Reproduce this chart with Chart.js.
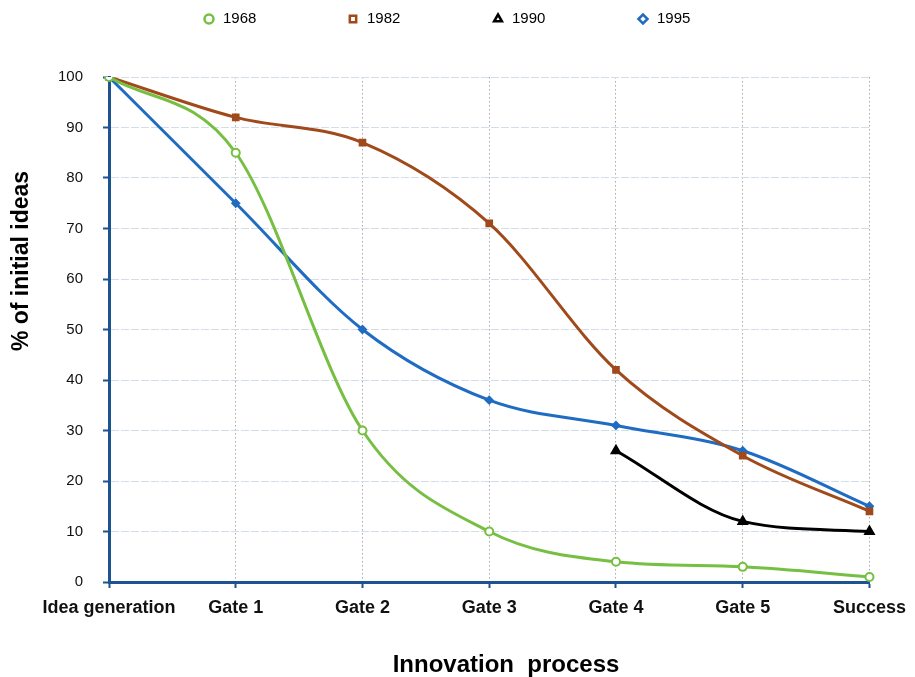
<!DOCTYPE html>
<html>
<head>
<meta charset="utf-8">
<script src="https://cdn.jsdelivr.net/npm/chart.js@4/dist/chart.umd.min.js"></script>
<style>
  html, body { margin: 0; padding: 0; background: #fff; }
  #wrap { width: 915px; height: 677px; position: relative; }
</style>
</head>
<body>
<div id="wrap"><canvas id="chart" width="915" height="677"></canvas></div>
<script>
const stages = ["Idea generation", "Gate 1", "Gate 2", "Gate 3", "Gate 4", "Gate 5", "Success"];
const yTicks = [0, 10, 20, 30, 40, 50, 60, 70, 80, 90, 100];

const s1968 = [100, 85, 30, 10, 4, 3, 1];
const s1982 = [100, 92, 87, 71, 42, 25, 14];
const s1990 = [null, null, null, null, 26, 12, 10];
const s1995 = [100, 75, 50, 36, 31, 26, 15];

const AXIS = "#1c5390";
const FONT = "'Liberation Sans', Arial, Helvetica, sans-serif";
const legendX = [209, 353, 498, 643];
const legendStyles = ["circle", "rect", "triangle", "rectRot"];

function series(label, data, color, style, radius, fill) {
  return {
    label,
    data,
    borderColor: color,
    backgroundColor: color,
    borderWidth: 3,
    pointStyle: style,
    pointRadius: radius,
    pointHoverRadius: radius,
    pointBackgroundColor: fill,
    pointBorderColor: color,
    pointBorderWidth: 2,
    cubicInterpolationMode: "monotone",
    spanGaps: false,
  };
}

// legend + axis titles, drawn where the original puts them
const extras = {
  id: "extras",
  afterDraw(chart) {
    const ctx = chart.ctx;
    ctx.save();
    chart.data.datasets.forEach((d, i) => {
      ctx.fillStyle = "#fff";
      ctx.strokeStyle = d.borderColor;
      ctx.lineWidth = 2.5;
      Chart.helpers.drawPoint(ctx, { pointStyle: legendStyles[i], radius: 4.5, borderWidth: 2.5, rotation: 0 }, legendX[i], 19);
      ctx.fillStyle = "#000";
      ctx.font = `15px ${FONT}`;
      ctx.textBaseline = "middle";
      ctx.textAlign = "left";
      ctx.fillText(d.label, legendX[i] + 14, 19);
    });

    ctx.fillStyle = "#000";
    ctx.font = `bold 24px ${FONT}`;
    ctx.textAlign = "center";
    ctx.textBaseline = "middle";
    ctx.fillText("Innovation  process", 506, 665);

    ctx.translate(22, 261);
    ctx.rotate(-Math.PI / 2);
    ctx.font = `bold 23px ${FONT}`;
    ctx.fillText("% of initial ideas", 0, 0);
    ctx.restore();
  },
};

new Chart(document.getElementById("chart"), {
  type: "line",
  data: {
    labels: stages,
    datasets: [
      series("1968", s1968, "#76bf43", "circle", 4, "#fff"),
      series("1982", s1982, "#a04a1c", "rect", 4, "#a04a1c"),
      series("1990", s1990, "#000", "triangle", 5, "#000"),
      series("1995", s1995, "#1f6cc2", "rectRot", 3.5, "#1f6cc2"),
    ],
  },
  plugins: [extras],
  options: {
    responsive: false,
    animation: false,
    layout: { padding: { top: 77, right: 38, left: 0, bottom: 0 } },
    plugins: {
      tooltip: { enabled: false },
      legend: { display: false },
    },
    scales: {
      x: {
        offset: false,
        grid: {
          color: (ctx) => (ctx.index === 0 ? "rgba(0,0,0,0)" : "#a8a8a8"),
          lineWidth: 1,
          drawTicks: true,
          tickLength: 6,
          tickColor: AXIS,
          tickWidth: 2,
        },
        border: { display: true, color: AXIS, width: 3, dash: [1.5, 2.5] },
        ticks: {
          color: "#111",
          padding: 9,
          maxRotation: 0,
          autoSkip: false,
          font: { family: FONT, size: 18, weight: "bold" },
        },
        afterFit(scale) { scale.height = 95; },
      },
      y: {
        min: 0,
        max: 100,
        afterBuildTicks(scale) { scale.ticks = yTicks.map((v) => ({ value: v })); },
        grid: {
          color: (ctx) => (ctx.tick && ctx.tick.value === 0 ? "rgba(0,0,0,0)" : "#d3dde8"),
          lineWidth: 1,
          drawTicks: true,
          tickLength: 6,
          tickColor: AXIS,
          tickWidth: 2,
        },
        border: { display: true, color: AXIS, width: 3, dash: [8, 2] },
        ticks: {
          color: "#111",
          padding: 20,
          font: { family: FONT, size: 15 },
        },
        afterFit(scale) { scale.width = 109; },
      },
    },
  },
});
</script>
</body>
</html>
